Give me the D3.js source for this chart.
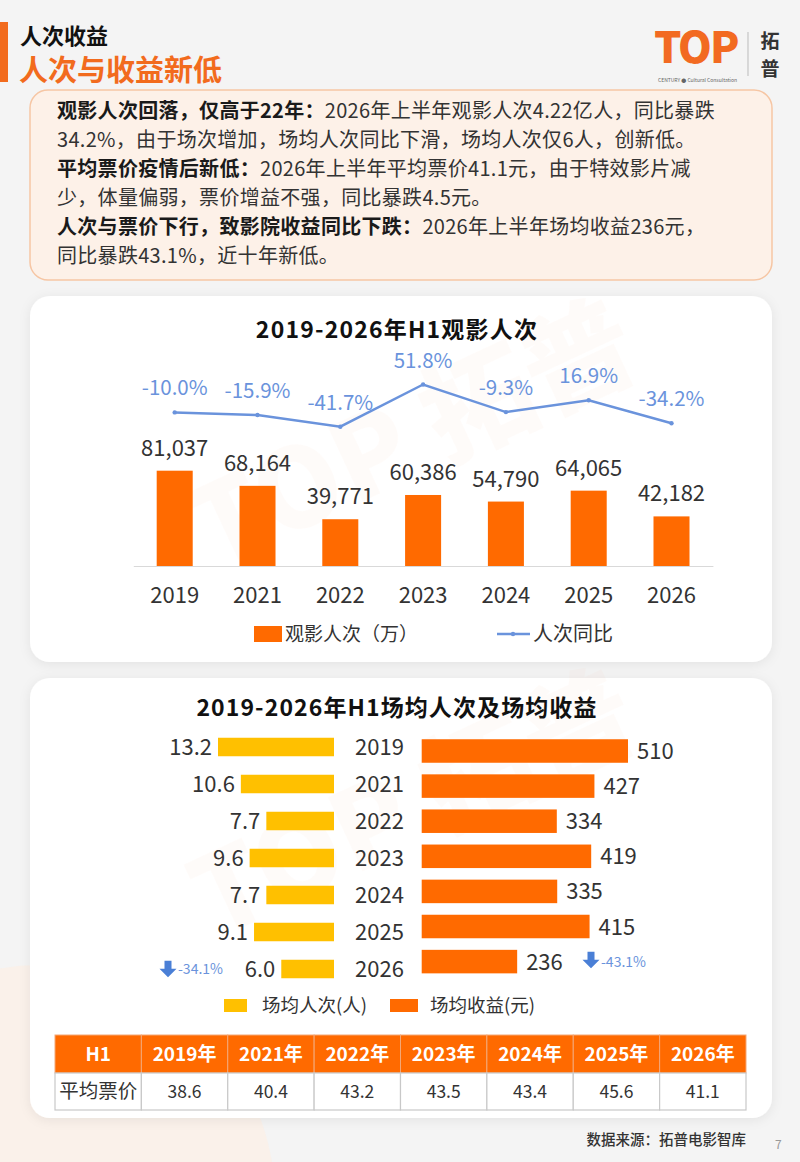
<!DOCTYPE html>
<html>
<head>
<meta charset="utf-8">
<script src="https://cdn.jsdelivr.net/npm/d3@7/dist/d3.min.js"></script>
<style>
  html, body { margin: 0; padding: 0; background: #f4f4f4; }
  svg { display: block; font-family: "Noto Sans CJK SC", "Noto Sans", sans-serif; }
</style>
</head>
<body>
<div id="page"></div>
<script>
// ---- data ----
const years = ["2019", "2021", "2022", "2023", "2024", "2025", "2026"];
const admissions = [81037, 68164, 39771, 60386, 54790, 64065, 42182];      // 观影人次（万）
const admYoY = [-10.0, -15.9, -41.7, 51.8, -9.3, 16.9, -34.2];              // 人次同比 %
const perShowAdm = [13.2, 10.6, 7.7, 9.6, 7.7, 9.1, 6.0];                   // 场均人次(人)
const perShowRev = [510, 427, 334, 419, 335, 415, 236];                     // 场均收益(元)
const avgPrice = [38.6, 40.4, 43.2, 43.5, 43.4, 45.6, 41.1];                // 平均票价
const tableHead = ["H1", "2019年", "2021年", "2022年", "2023年", "2024年", "2025年", "2026年"];
const rowLabel = "平均票价";
const yoyNotes = ["-34.1%", "-43.1%"];

const boxLines = [
  [["观影人次回落，仅高于22年：", true], ["2026年上半年观影人次4.22亿人，同比暴跌", false]],
  [["34.2%，由于场次增加，场均人次同比下滑，场均人次仅6人，创新低。", false]],
  [["平均票价疫情后新低：", true], ["2026年上半年平均票价41.1元，由于特效影片减", false]],
  [["少，体量偏弱，票价增益不强，同比暴跌4.5元。", false]],
  [["人次与票价下行，致影院收益同比下跌：", true], ["2026年上半年场均收益236元，", false]],
  [["同比暴跌43.1%，近十年新低。", false]]
];

const ORANGE = "#ff6a00";
const YELLOW = "#ffc000";
const BLUE = "#6a93dc";
const TXT = "#333";

// hyphen minus like the original
const loc = d3.formatLocale({decimal: ".", thousands: ",", grouping: [3], currency: ["", ""], minus: "-"});
const fmtPct = loc.format(".1f");
const fmtInt = loc.format(",");

const svg = d3.select("#page").append("svg")
  .attr("width", 800).attr("height", 1162);

const defs = svg.append("defs");
const sh = defs.append("filter").attr("id", "shadow")
  .attr("x", "-10%").attr("y", "-10%").attr("width", "120%").attr("height", "120%");
sh.append("feDropShadow").attr("dx", 0).attr("dy", 2).attr("stdDeviation", 6)
  .attr("flood-color", "#000").attr("flood-opacity", 0.07);

// page background
svg.append("rect").attr("width", 800).attr("height", 1162).attr("fill", "#f4f4f4");
svg.append("circle").attr("cx", 40).attr("cy", 1200).attr("r", 235)
  .attr("fill", "#fcefe6").attr("opacity", 0.7);

// ---- header ----
svg.append("rect").attr("x", 0).attr("y", 22).attr("width", 8).attr("height", 60).attr("fill", "#f26b1d");
svg.append("text").attr("x", 20).attr("y", 44).attr("font-size", 22).attr("font-weight", 700)
  .attr("fill", "#111").text("人次收益");
svg.append("text").attr("x", 19).attr("y", 81).attr("font-size", 29).attr("font-weight", 700)
  .attr("fill", "#f26b1d").text("人次与收益新低");

// logo
const logo = svg.append("g");
logo.append("text").attr("x", 654).attr("y", 63).attr("font-size", 43).attr("font-weight", 900)
  .attr("letter-spacing", -2).attr("fill", "#f26a21").text("TOP");
logo.append("text").attr("x", 658).attr("y", 81.5).attr("font-size", 5).attr("fill", "#666")
  .text("CENTURY ● Cultural Consultation");
logo.append("line").attr("x1", 748).attr("x2", 748).attr("y1", 32).attr("y2", 76)
  .attr("stroke", "#bbb").attr("stroke-width", 1);
logo.append("text").attr("x", 770).attr("y", 48).attr("text-anchor", "middle").attr("font-size", 19)
  .attr("font-weight", 700).attr("fill", "#333").text("拓");
logo.append("text").attr("x", 770).attr("y", 76).attr("text-anchor", "middle").attr("font-size", 19)
  .attr("font-weight", 700).attr("fill", "#333").text("普");

// ---- summary box ----
svg.append("rect").attr("x", 30).attr("y", 90).attr("width", 742).attr("height", 190).attr("rx", 18)
  .attr("fill", "#fdf1e8").attr("stroke", "#f6c6a4").attr("stroke-width", 1.5);
const lineY = [118, 147, 176, 205, 234, 263];
boxLines.forEach((segs, i) => {
  const t = svg.append("text").attr("x", 57).attr("y", lineY[i]).attr("font-size", 20)
    .attr("letter-spacing", 0.3);
  segs.forEach(([s, bold]) => {
    t.append("tspan").attr("font-weight", bold ? 700 : 400)
      .attr("fill", bold ? "#1a1a1a" : TXT).text(s);
  });
});

// ---- cards ----
svg.append("rect").attr("x", 30).attr("y", 296).attr("width", 742).attr("height", 366).attr("rx", 20)
  .attr("fill", "#fff").attr("filter", "url(#shadow)");
svg.append("rect").attr("x", 30).attr("y", 678).attr("width", 742).attr("height", 440).attr("rx", 20)
  .attr("fill", "#fff").attr("filter", "url(#shadow)");

// faint watermarks
[[430, 470], [430, 840]].forEach(([cx, cy]) => {
  svg.append("text").attr("x", cx).attr("y", cy).attr("text-anchor", "middle")
    .attr("font-size", 110).attr("font-weight", 900).attr("fill", "#f26a21").attr("opacity", 0.018)
    .attr("transform", `rotate(-25,${cx},${cy})`).text("TOP 拓普");
});

// ---- chart 1: admissions ----
svg.append("text").attr("x", 397).attr("y", 338).attr("text-anchor", "middle")
  .attr("font-size", 23).attr("font-weight", 700).attr("letter-spacing", 1.2)
  .attr("fill", "#111").text("2019-2026年H1观影人次");

const x1 = d3.scaleBand().domain(years).range([133.3, 712.9])
  .paddingInner(0.565).paddingOuter(0.2825);
const yBar = d3.scaleLinear().domain([0, 81037]).range([566, 470.7]);
const yLine = d3.scaleLinear().domain([-41.7, 51.8]).range([426.7, 384.5]);

const c1 = svg.append("g");
c1.selectAll(".bar").data(admissions).join("rect").attr("class", "bar")
  .attr("x", (d, i) => x1(years[i])).attr("width", x1.bandwidth())
  .attr("y", d => yBar(d)).attr("height", d => yBar(0) - yBar(d)).attr("fill", ORANGE);
c1.selectAll(".bl").data(admissions).join("text").attr("class", "bl")
  .attr("x", (d, i) => x1(years[i]) + x1.bandwidth() / 2).attr("y", d => yBar(d) - 15)
  .attr("text-anchor", "middle").attr("font-size", 22).attr("fill", TXT)
  .text(d => fmtInt(d));

const xAxis1 = c1.append("g").attr("transform", `translate(0,${yBar(0)})`)
  .call(d3.axisBottom(x1).tickSize(0).tickPadding(21));
xAxis1.select(".domain").attr("stroke", "#d9d9d9").attr("stroke-width", 1.2);
xAxis1.selectAll("text").attr("font-size", 22).attr("fill", TXT)
  .attr("font-family", "Noto Sans CJK SC");

const cx1 = (d, i) => x1(years[i]) + x1.bandwidth() / 2;
const line = d3.line().x(cx1).y(d => yLine(d));
c1.append("path").datum(admYoY).attr("d", line).attr("fill", "none")
  .attr("stroke", BLUE).attr("stroke-width", 2.5);
c1.selectAll(".pt").data(admYoY).join("circle").attr("class", "pt")
  .attr("cx", cx1).attr("cy", d => yLine(d)).attr("r", 2.2).attr("fill", BLUE);
c1.selectAll(".pl").data(admYoY).join("text").attr("class", "pl")
  .attr("x", cx1).attr("y", d => yLine(d) - 17).attr("text-anchor", "middle")
  .attr("font-size", 20.5).attr("fill", BLUE).text(d => fmtPct(d) + "%");

// legend 1
c1.append("rect").attr("x", 254).attr("y", 626).attr("width", 28).attr("height", 16).attr("fill", ORANGE);
c1.append("text").attr("x", 285).attr("y", 641).attr("font-size", 19).attr("fill", TXT).text("观影人次（万）");
c1.append("line").attr("x1", 497).attr("x2", 530).attr("y1", 634).attr("y2", 634)
  .attr("stroke", BLUE).attr("stroke-width", 2.5);
c1.append("circle").attr("cx", 513).attr("cy", 634).attr("r", 2.2).attr("fill", BLUE);
c1.append("text").attr("x", 533).attr("y", 641).attr("font-size", 20).attr("fill", TXT).text("人次同比");

// ---- chart 2: per-show admissions & revenue ----
svg.append("text").attr("x", 397).attr("y", 716).attr("text-anchor", "middle")
  .attr("font-size", 23).attr("font-weight", 700).attr("letter-spacing", 1.1)
  .attr("fill", "#111").text("2019-2026年H1场均人次及场均收益");

const yL = d3.scaleBand().domain(years).range([728.5, 987.5]).paddingInner(0.5).paddingOuter(0.25);
const yR = d3.scaleBand().domain(years).range([733.45, 979.15]).paddingInner(0.33).paddingOuter(0.165);
const xL = d3.scaleLinear().domain([0, 13.2]).range([334, 218]);
const xR = d3.scaleLinear().domain([0, 510]).range([421.7, 628]);

const c2 = svg.append("g");
c2.selectAll(".lb").data(perShowAdm).join("rect").attr("class", "lb")
  .attr("x", d => xL(d)).attr("width", d => xL(0) - xL(d))
  .attr("y", (d, i) => yL(years[i])).attr("height", yL.bandwidth()).attr("fill", YELLOW);
c2.selectAll(".ll").data(perShowAdm).join("text").attr("class", "ll")
  .attr("x", d => xL(d) - 6).attr("y", (d, i) => yL(years[i]) + yL.bandwidth() / 2 + 8)
  .attr("text-anchor", "end").attr("font-size", 22).attr("fill", TXT).text(d => fmtPct(d));

c2.selectAll(".rb").data(perShowRev).join("rect").attr("class", "rb")
  .attr("x", xR(0)).attr("width", d => xR(d) - xR(0))
  .attr("y", (d, i) => yR(years[i])).attr("height", yR.bandwidth()).attr("fill", ORANGE);
c2.selectAll(".rl").data(perShowRev).join("text").attr("class", "rl")
  .attr("x", d => xR(d) + 9).attr("y", (d, i) => yR(years[i]) + yR.bandwidth() / 2 + 8)
  .attr("font-size", 22).attr("fill", TXT).text(d => d);

c2.selectAll(".yr").data(years).join("text").attr("class", "yr")
  .attr("x", 379.5).attr("y", d => yL(d) + yL.bandwidth() / 2 + 8)
  .attr("text-anchor", "middle").attr("font-size", 22).attr("fill", TXT).text(d => d);

// decline notes with arrows
function downArrow(g, x, y) {
  // x = centre, y = top
  g.append("path").attr("fill", "#4a7fd6")
    .attr("d", `M${x - 3.5},${y} h7 v8 h5 l-8.5,8.5 l-8.5,-8.5 h5 z`);
}
const lastYear = years[years.length - 1];
const nL = c2.append("g");
downArrow(nL, 168, yL(lastYear) + 1);
nL.append("text").attr("x", 178).attr("y", yL(lastYear) + yL.bandwidth() / 2 + 5)
  .attr("font-size", 14).attr("fill", BLUE).text(yoyNotes[0]);
const nR = c2.append("g");
downArrow(nR, 591, yR(lastYear) + 2);
nR.append("text").attr("x", 601).attr("y", yR(lastYear) + yR.bandwidth() / 2 + 5)
  .attr("font-size", 14).attr("fill", BLUE).text(yoyNotes[1]);

// legend 2
c2.append("rect").attr("x", 224).attr("y", 999).attr("width", 23).attr("height", 13).attr("fill", YELLOW);
c2.append("text").attr("x", 262).attr("y", 1012).attr("font-size", 18.5).attr("fill", TXT).text("场均人次(人)");
c2.append("rect").attr("x", 390).attr("y", 999).attr("width", 28).attr("height", 13).attr("fill", ORANGE);
c2.append("text").attr("x", 430).attr("y", 1012).attr("font-size", 18.5).attr("fill", TXT).text("场均收益(元)");

// ---- price table ----
const cols = d3.scaleBand().domain(d3.range(tableHead.length)).range([55, 746]);
const tb = svg.append("g");
const hY = 1035, hH = 38, rY = 1073, rH = 37;
tb.selectAll(".hc").data(tableHead).join("rect").attr("class", "hc")
  .attr("x", (d, i) => cols(i)).attr("y", hY).attr("width", cols.bandwidth()).attr("height", hH)
  .attr("fill", ORANGE).attr("stroke", "#f3a777").attr("stroke-width", 1);
tb.selectAll(".ht").data(tableHead).join("text").attr("class", "ht")
  .attr("x", (d, i) => cols(i) + cols.bandwidth() / 2).attr("y", hY + hH / 2 + 7)
  .attr("text-anchor", "middle").attr("font-size", 19).attr("font-weight", 700)
  .attr("fill", "#fff").text(d => d);
const rowCells = [rowLabel].concat(avgPrice.map(d => fmtPct(d)));
tb.selectAll(".rc").data(rowCells).join("rect").attr("class", "rc")
  .attr("x", (d, i) => cols(i)).attr("y", rY).attr("width", cols.bandwidth()).attr("height", rH)
  .attr("fill", "#fff").attr("stroke", "#c8c8c8").attr("stroke-width", 1.2);
tb.selectAll(".rt").data(rowCells).join("text").attr("class", "rt")
  .attr("x", (d, i) => cols(i) + cols.bandwidth() / 2).attr("y", rY + rH / 2 + 6.5)
  .attr("text-anchor", "middle").attr("font-size", (d, i) => i === 0 ? 19.5 : 17.5)
  .attr("fill", TXT).text(d => d);

// ---- footer ----
svg.append("text").attr("x", 746).attr("y", 1145).attr("text-anchor", "end")
  .attr("font-size", 14.5).attr("font-weight", 500).attr("fill", "#333").text("数据来源：拓普电影智库");
svg.append("text").attr("x", 775).attr("y", 1149).attr("font-size", 12).attr("fill", "#999").text("7");
</script>
</body>
</html>
